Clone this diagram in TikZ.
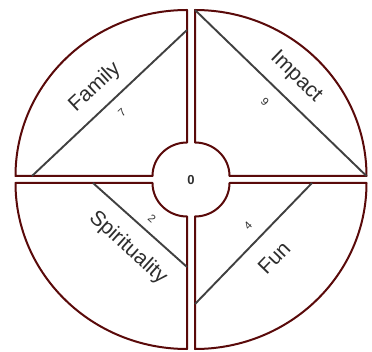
\documentclass[tikz,border=0pt]{standalone}
\usepackage{fontspec}
\setmainfont{Liberation Sans}
\usetikzlibrary{calc}
\definecolor{ringred}{HTML}{5A0A0A}
\definecolor{chordgray}{HTML}{404040}
\definecolor{labelgray}{HTML}{2E2E2E}
\begin{document}
\begin{tikzpicture}[x=1pt,y=1pt,
  sector/.style={draw=ringred,line width=2pt,line join=round,fill=white},
  chord/.style={draw=chordgray,line width=1.9pt},
  biglabel/.style={text=labelgray,font=\fontsize{21}{21}\selectfont,inner sep=0pt},
  numlabel/.style={text=labelgray,font=\fontsize{11}{11}\selectfont,inner sep=0pt},
  centerlabel/.style={text=labelgray,font=\bfseries\fontsize{13}{13}\selectfont,inner sep=0pt}]
\useasboundingbox (0,0) rectangle (372,351);
% corners of the four sectors
\coordinate (TL) at (187,175);
\coordinate (TR) at (195,175);
\coordinate (BL) at (187,168);
\coordinate (BR) at (195,168);
% sectors
\path[sector] ($(TL)+(-34.5,0)$) -- ++(-137,0)
  arc[start angle=180,end angle=90,x radius=171.5,y radius=166] -- ++(0,-132.5)
  arc[start angle=90,end angle=180,x radius=34.5,y radius=33.5] -- cycle;
\path[sector] ($(TR)+(34.5,0)$) -- ++(137,0)
  arc[start angle=0,end angle=90,x radius=171.5,y radius=166] -- ++(0,-132.5)
  arc[start angle=90,end angle=0,x radius=34.5,y radius=33.5] -- cycle;
\path[sector] ($(BL)+(-34.5,0)$) -- ++(-137,0)
  arc[start angle=180,end angle=270,x radius=171.5,y radius=166] -- ++(0,132.5)
  arc[start angle=270,end angle=180,x radius=34.5,y radius=33.5] -- cycle;
\path[sector] ($(BR)+(34.5,0)$) -- ++(137,0)
  arc[start angle=0,end angle=-90,x radius=171.5,y radius=166] -- ++(0,132.5)
  arc[start angle=-90,end angle=0,x radius=34.5,y radius=33.5] -- cycle;
% chord end points
\coordinate (f1) at (187,321);
\coordinate (f2) at (32,175);
\coordinate (i1) at (195,341);
\coordinate (i2) at (366.5,175);
\coordinate (s1) at (93,168);
\coordinate (s2) at (187,84);
\coordinate (u1) at (312,168);
\coordinate (u2) at (195,47);
\draw[chord] (f1) -- (f2);
\draw[chord] (i1) -- (i2);
\draw[chord] (s1) -- (s2);
\draw[chord] (u1) -- (u2);
% labels
\node[biglabel,rotate=43] (family) at (95,264) {Family};
\node[numlabel,rotate=43] (n7) at (122,238) {7};
\node[biglabel,rotate=-44] (impact) at (296,274) {Impact};
\node[numlabel,rotate=-44] (n9) at (265,249) {9};
\node[biglabel,rotate=-42] (spirit) at (128,103) {Spirituality};
\node[numlabel,rotate=-42] (n2) at (152,132) {2};
\node[biglabel,rotate=46] (fun) at (274,93) {Fun};
\node[numlabel,rotate=46] (n4) at (248,125) {4};
\node[centerlabel] (zero) at (191,171) {0};
\end{tikzpicture}
\end{document}
